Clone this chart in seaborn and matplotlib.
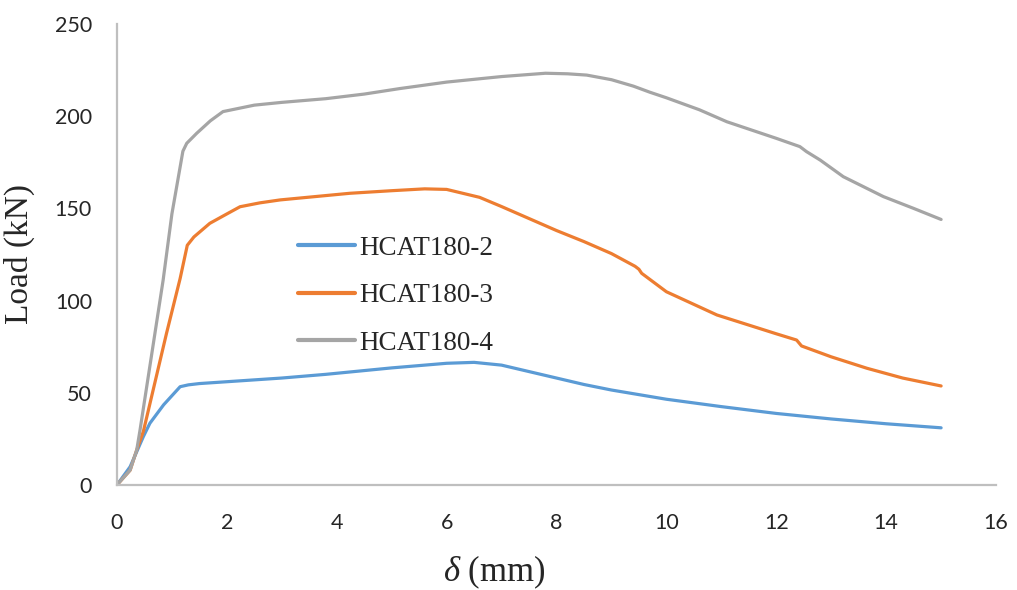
import matplotlib
matplotlib.use("Agg")
import matplotlib.pyplot as plt
from matplotlib.ticker import MultipleLocator
import numpy as np
import pandas as pd
import seaborn as sns

# Load–displacement curves (δ in mm, load in kN)
series_names = ["HCAT180-2", "HCAT180-3", "HCAT180-4"]

d_180_2 = [0.0, 0.24, 0.48, 0.6, 0.85, 1.15, 1.3, 1.5, 2.0, 3.0, 3.8, 5.0, 6.0, 6.5,
           7.0, 7.5, 8.0, 8.5, 9.0, 9.7, 10.0, 11.0, 12.0, 13.0, 14.0, 15.0]
p_180_2 = [0.0, 9.9, 26.2, 33.5, 43.5, 53.3, 54.3, 55.0, 56.0, 58.0, 60.0, 63.5, 66.0, 66.5,
           65.0, 61.5, 58.0, 54.5, 51.5, 48.0, 46.5, 42.5, 38.8, 35.8, 33.2, 31.0]

d_180_3 = [0.0, 0.24, 0.36, 0.48, 0.54, 0.9, 1.15, 1.28, 1.4, 1.69, 2.0, 2.24, 2.6, 2.97,
           4.24, 5.0, 5.6, 6.0, 6.6, 7.0, 7.5, 8.0, 8.5, 9.0, 9.43, 9.5, 9.55, 10.0,
           10.92, 12.0, 12.37, 12.46, 13.0, 13.65, 14.3, 15.0]
p_180_3 = [0.0, 8.0, 19.0, 29.0, 36.5, 82.0, 112.0, 130.0, 134.5, 141.9, 147.0, 150.9, 153.0, 154.6,
           158.2, 159.6, 160.6, 160.3, 156.0, 151.0, 144.5, 138.0, 132.0, 125.5, 118.6, 117.0, 114.8, 104.8,
           92.2, 82.0, 78.6, 75.4, 69.5, 63.3, 58.0, 53.7]

d_180_4 = [0.0, 0.24, 0.36, 0.42, 0.84, 1.0, 1.2, 1.27, 1.45, 1.7, 1.93, 2.5, 3.0, 3.8,
           4.5, 5.15, 6.0, 7.0, 7.8, 8.2, 8.55, 9.0, 9.4, 9.7, 10.0, 10.6, 11.1, 12.0, 12.43,
           12.55, 12.8, 13.22, 13.95, 14.5, 15.0]
p_180_4 = [0.0, 8.1, 19.0, 29.8, 111.0, 147.0, 181.0, 185.3, 190.7, 197.5, 202.5, 206.0, 207.5, 209.5,
           212.0, 215.0, 218.5, 221.5, 223.3, 223.0, 222.3, 219.8, 216.3, 213.0, 210.0, 203.5, 197.0, 188.0, 183.5,
           180.8, 176.2, 167.2, 156.4, 150.0, 144.0]

x_ticks = [0, 2, 4, 6, 8, 10, 12, 14, 16]
y_ticks = [0, 50, 100, 150, 200, 250]

frames = []
for name, d, p in zip(series_names, [d_180_2, d_180_3, d_180_4],
                      [p_180_2, p_180_3, p_180_4]):
    frames.append(pd.DataFrame({"delta": d, "load": p, "specimen": name}))
df = pd.concat(frames, ignore_index=True)

sns.set_style("white")
plt.rcParams["mathtext.fontset"] = "custom"
plt.rcParams["mathtext.rm"] = "Liberation Serif"
plt.rcParams["mathtext.it"] = "Liberation Serif:italic"

palette = {"HCAT180-2": "#5B9BD5", "HCAT180-3": "#ED7D31", "HCAT180-4": "#A5A5A5"}
axis_grey = "#BFBFBF"
text_color = "#262626"

fig = plt.figure(figsize=(10.17, 5.90), dpi=100)
ax = fig.add_axes([0.115, 0.178, 0.8644, 0.7813])

sns.lineplot(data=df, x="delta", y="load", hue="specimen", palette=palette,
             estimator=None, sort=False, linewidth=2.3, ax=ax)

ax.set_xlim(x_ticks[0], x_ticks[-1])
ax.set_ylim(y_ticks[0], y_ticks[-1])
ax.set_xticks(x_ticks)
ax.set_yticks(y_ticks)
ax.xaxis.set_minor_locator(MultipleLocator(0.4))
ax.yaxis.set_minor_locator(MultipleLocator(10))

for side in ["top", "right"]:
    ax.spines[side].set_visible(False)
for side in ["left", "bottom"]:
    ax.spines[side].set_color(axis_grey)
    ax.spines[side].set_linewidth(1.6)

ax.tick_params(axis="both", which="both", direction="in", color=axis_grey, width=1.3)
ax.tick_params(axis="x", which="major", length=6, pad=20)
ax.tick_params(axis="x", which="minor", length=4.5)
ax.tick_params(axis="y", which="major", length=5, pad=18)
ax.tick_params(axis="y", which="minor", length=5)
for lab in ax.get_xticklabels() + ax.get_yticklabels():
    lab.set_fontfamily("Lato")
    lab.set_fontsize(15.5)
    lab.set_color(text_color)

ax.set_xlabel(r"$\delta$ (mm)", fontfamily="Liberation Serif", fontsize=25,
              color=text_color)
ax.xaxis.set_label_coords(0.429, -0.208)
ax.xaxis.label.set_verticalalignment("baseline")
ax.set_ylabel("Load (kN)", fontfamily="Liberation Serif", fontsize=24,
              color=text_color, labelpad=14)

leg = ax.legend(loc="upper left", bbox_to_anchor=(0.293, 0.6005), bbox_transform=fig.transFigure,
                frameon=False, borderpad=0, borderaxespad=0, handlelength=2.1,
                handletextpad=0.18, labelspacing=0.83,
                prop={"family": "Liberation Serif", "size": 19.5})
for line in leg.get_lines():
    line.set_linewidth(3)
for t in leg.get_texts():
    t.set_color(text_color)

fig.savefig("out.png", dpi=100)
